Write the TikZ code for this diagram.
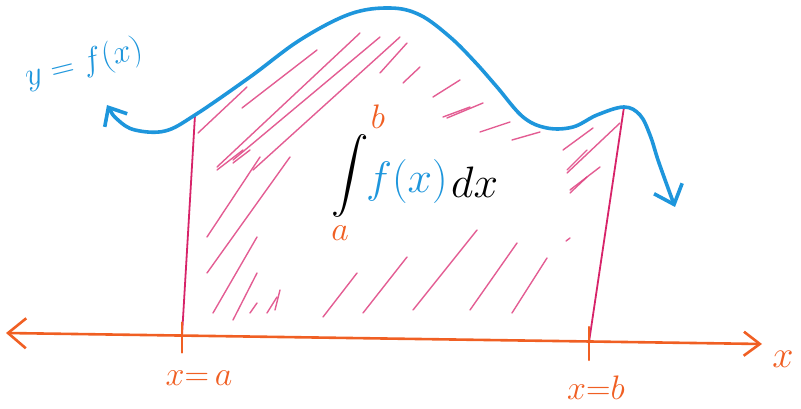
\RequirePackage{fix-cm}
\documentclass[tikz,border=0pt]{standalone}
\usepackage{amsmath}
\usepackage{tikz}
\usetikzlibrary{arrows.meta,positioning,calc}
\definecolor{myblue}{RGB}{30,150,220}
\definecolor{myorange}{RGB}{240,95,35}
\definecolor{mymagenta}{RGB}{215,35,105}
\definecolor{mypink}{RGB}{222,65,128}
\newcommand{\bigtxt}[1]{\fontsize{#1}{#1}\selectfont}

\begin{document}
\begin{tikzpicture}[x=1pt, y=-1pt, font=\small,
    barb/.style={line width=2.6pt, line cap=round, line join=round},
    hatch/.style={mypink, line width=1.4pt, line cap=round, opacity=0.85},
    lbl/.style={inner sep=0pt}]
  \useasboundingbox (0,0) rectangle (801,409);
  % Key points
  \coordinate (fa) at (195,115);
  \coordinate (fb) at (624,107);
  \coordinate (xa) at (182,335.5);
  \coordinate (xb) at (589,342);
  \coordinate (axl) at (6,333);
  \coordinate (axr) at (762,344);
  % Hatching under the curve
  \foreach \xa/\ya/\xb/\yb in {198/133/247/87, 242/108/317/50, 217/167/360/33,
      233/160/380/37, 253/170/400/37, 380/73/407/43, 403/83/420/67,
      433/97/460/80, 443/117/470/107, 447/118/483/103, 480/132/510/122,
      512/140/540/132, 563/150/593/128, 567/173/620/123, 570/193/587/177,
      217/170/243/150, 233/163/250/150, 207/237/260/157, 207/273/290/157,
      213/313/257/237, 233/320/257/273, 250/313/257/303, 267/313/277/297,
      275/310/280/290, 323/317/357/273, 363/313/407/257, 413/310/477/230,
      470/310/517/243, 512/313/547/258, 566/241/570/238, 570/190/600/167,
      567/170/587/150}{
    \draw[hatch] (\xa,\ya) -- (\xb,\yb);
  }
  % Bounds x = a and x = b
  \draw[mymagenta, line width=1.8pt] (fa) -- (xa);
  \draw[mymagenta, line width=1.8pt] (fb) -- (xb);
  % Axis
  \draw[myorange, barb, {Straight Barb[length=18pt,width=30pt]}-{Straight Barb[length=16pt,width=24pt]}]
    (axl) -- (axr);
  \draw[myorange, line width=2.2pt, line cap=round] ($(xa)+(0,-13)$) -- ($(xa)+(0,17)$);
  \draw[myorange, line width=2.2pt, line cap=round] ($(xb)+(0,-15)$) -- ($(xb)+(0,18)$);
  % Curve
  \draw[myblue, line width=3.6pt, line cap=round, line join=round,
        {Straight Barb[length=15pt,width=26pt]}-{Straight Barb[length=17pt,width=30pt]}]
    plot[smooth, tension=0.6] coordinates {(107,105) (118,120) (135,130) (165,131)
      (fa) (250,77) (300,40) (350,14) (390,8) (420,15) (450,37) (475,62)
      (497,87) (523,117) (547,128) (573,127) (597,115) (fb) (640,115)
      (650,135) (658,160) (668,188) (675,207)};
  % Labels
  \node[lbl, myblue, rotate=14, font=\bigtxt{33}] (ylbl) at (84,64) {$y=f(x)$};
  \node[lbl, myorange, font=\bigtxt{34}] (lbla) at (199,378) {$x{=}\,a$};
  \node[lbl, myorange, font=\bigtxt{34}] (lblb) at (596,388) {$x{=}b$};
  \node[lbl, myorange, font=\bigtxt{38}] (xlbl) at (783,359) {$x$};
  % Integral
  \node[lbl, font=\bigtxt{34}] (intsign) at (350,176) {\scalebox{1.5}{$\displaystyle\int$}};
  \node[lbl, myorange, font=\bigtxt{34}] (upper) at (378,117) {$b$};
  \node[lbl, myorange, font=\bigtxt{34}] (lower) at (340,233) {$a$};
  \node[lbl, myblue, font=\bigtxt{44}, anchor=west] (fx) at (366,182) {$f(x)$};
  \node[lbl, font=\bigtxt{44}, right=3pt of fx] (dx) {$dx$};
\end{tikzpicture}
\end{document}
